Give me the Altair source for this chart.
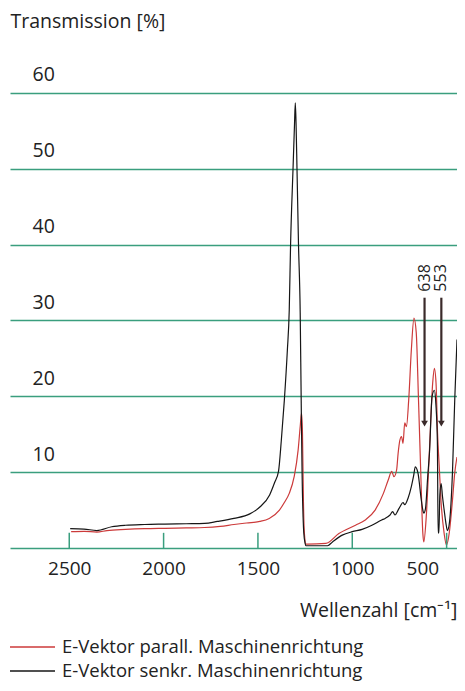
import altair as alt
import pandas as pd

# ---- data ----
red_w = [2490, 2420, 2354, 2300, 2202, 2100, 1993, 1880, 1783, 1700, 1627, 1560, 1490, 1440,
         1386, 1360, 1334, 1308, 1287, 1276, 1269, 1264, 1259, 1254, 1245, 1236, 1140, 1071,
         983, 931, 879, 835, 809, 791, 779, 765, 757, 748, 739, 731, 722, 713, 701, 687, 673,
         661, 649, 638, 626, 621, 608, 591, 574, 565, 556, 548, 539, 530, 513, 501, 486, 469,
         457, 445]
red_v = [2.15, 2.2, 2.1, 2.3, 2.45, 2.55, 2.6, 2.65, 2.7, 2.85, 3.1, 3.3, 3.5, 3.9,
         5.0, 6.0, 7.2, 9.4, 12.9, 16.0, 17.8, 15.2, 6.3, 2.0, 0.5, 0.5, 0.6, 1.9,
         3.0, 3.7, 5.0, 7.2, 9.0, 10.1, 9.4, 10.3, 12.5, 14.2, 14.7, 13.8, 16.5, 16.0, 19.5, 26.1, 30.3,
         28.4, 19.5, 10.7, 1.9, 0.8, 4.1, 12.9, 21.7, 23.7, 21.7, 15.1, 10.7, 6.3, 1.9, 0.4, 2.0, 6.3,
         9.9, 12.0]

black_w = [2495, 2422, 2354, 2275, 2202, 2100, 1993, 1880, 1783, 1715, 1627, 1543, 1490, 1438,
           1412, 1391, 1376, 1360, 1344, 1334, 1327, 1314, 1306, 1302, 1298, 1293, 1285, 1276,
           1271, 1266, 1257, 1250, 1245, 1180, 1131, 1105, 1053, 1000, 948, 896, 844, 826, 800,
           786, 774, 757, 748, 731, 722, 704, 687, 675, 666, 652, 634, 626, 621, 612, 600, 591,
           577, 565, 557, 549, 545, 541, 536, 529, 522, 513, 502, 496, 487, 478, 469, 457, 445]
black_v = [2.55, 2.5, 2.3, 2.8, 3.0, 3.1, 3.15, 3.2, 3.25, 3.5, 3.9, 4.5, 5.4, 7.0,
           8.6, 10.1, 14.2, 19.5, 26.1, 31.4, 40.0, 50.0, 56.0, 58.7, 56.0, 50.0, 40.0, 31.0,
           20.0, 10.0, 2.0, 0.6, 0.3, 0.3, 0.3, 0.8, 1.7, 2.15, 2.45, 3.0, 3.7, 3.9, 4.35,
           4.8, 4.35, 5.0, 5.4, 6.0, 5.7, 6.6, 8.1, 9.5, 10.7, 9.9, 6.3, 5.0, 4.6, 5.2, 9.5, 12.5,
           20.0, 20.8, 19.0, 14.0, 2.0, 2.0, 7.0, 8.5, 6.8, 5.0, 3.0, 2.3, 3.0, 5.4, 10.0, 19.5, 27.5]

series_names = ["E-Vektor parall. Maschinenrichtung", "E-Vektor senkr. Maschinenrichtung"]
series_colors = ["#cc3a3a", "#161616"]

x_ticks = [2500, 2000, 1500, 1000, 500]
y_ticks = [10, 20, 30, 40, 50, 60]

arrow_pos = [617, 528]
arrow_labels = ["638", "553"]
arrow_top = 33.0
arrow_tip = 16.4
label_base = 33.8

GREEN = "#3a9e7e"
FONT = "Open Sans"
TXT = "#222222"

PLOT_W = 447
PLOT_H = 493

red_df = pd.DataFrame({"w": red_w, "t": red_v})
black_df = pd.DataFrame({"w": black_w, "t": black_v})
tick_df = pd.DataFrame({"w": x_ticks, "y0": [0] * len(x_ticks), "y1": [2.0] * len(x_ticks)})
arrow_df = pd.DataFrame({"w": arrow_pos, "lab": arrow_labels,
                         "top": [arrow_top] * 2, "tip": [arrow_tip] * 2, "lb": [label_base] * 2})

xscale = alt.Scale(domain=[445, 2814], reverse=True, nice=False, zero=False)
yscale = alt.Scale(domain=[0, 65], nice=False, zero=False)

xaxis = alt.Axis(values=x_ticks, format="d", grid=False, ticks=False, tickSize=0,
                 domain=True, domainColor=GREEN, domainWidth=1.5,
                 labelFont=FONT, labelFontSize=19, labelColor=TXT, labelPadding=11,
                 labelFlush=15, labelFlushOffset=-8,
                 title="Wellenzahl [cm⁻¹]", titleFont=FONT, titleFontSize=19.5,
                 titleFontWeight="normal", titleColor=TXT, titleX=PLOT_W, titleY=62,
                 titleAlign="right", titleBaseline="middle")
yaxis = alt.Axis(values=y_ticks, format="d", grid=True, gridColor=GREEN, gridWidth=1.5,
                 domain=False, ticks=False, tickSize=0,
                 labelAlign="left", labelBaseline="middle", labelPadding=-22, labelOffset=-18,
                 labelFont=FONT, labelFontSize=19.5, labelColor=TXT,
                 title="Transmission [%]", titleAngle=0, titleX=0, titleY=-34,
                 titleAlign="left", titleBaseline="middle", titleFont=FONT, titleFontSize=19.5,
                 titleFontWeight="normal", titleColor=TXT)

base_x = alt.X("w:Q", scale=xscale, axis=xaxis)
base_y = alt.Y("t:Q", scale=yscale, axis=yaxis)

red_line = alt.Chart(red_df).mark_line(color=series_colors[0], strokeWidth=1.2,
                                       interpolate="monotone").encode(x=base_x, y=base_y)
black_line = alt.Chart(black_df).mark_line(color=series_colors[1], strokeWidth=1.2,
                                           interpolate="monotone").encode(
    x=alt.X("w:Q", scale=xscale), y=alt.Y("t:Q", scale=yscale))

ticks = alt.Chart(tick_df).mark_rule(color=GREEN, strokeWidth=1.5).encode(
    x=alt.X("w:Q", scale=xscale), y=alt.Y("y0:Q", scale=yscale), y2="y1:Q")

arrow_shaft = alt.Chart(arrow_df).mark_rule(color="#3a2a2a", strokeWidth=2.2).encode(
    x=alt.X("w:Q", scale=xscale), y=alt.Y("top:Q", scale=yscale), y2="tip:Q")
arrow_head = alt.Chart(arrow_df).mark_point(shape="triangle-down", filled=True,
                                            color="#3a2a2a", size=45, opacity=1).encode(
    x=alt.X("w:Q", scale=xscale), y=alt.Y("tip:Q", scale=yscale))
arrow_text = alt.Chart(arrow_df).mark_text(angle=270, align="left", baseline="middle",
                                           font=FONT, fontSize=16, color=TXT).encode(
    x=alt.X("w:Q", scale=xscale), y=alt.Y("lb:Q", scale=yscale), text="lab:N")

layers = [red_line, black_line, ticks, arrow_shaft, arrow_head, arrow_text]

# manual legend below the plot
LEG_Y = [592, 616]
for name, col, ly in zip(series_names, series_colors, LEG_Y):
    ldf = pd.DataFrame({"label": [name]})
    layers.append(alt.Chart(ldf).mark_rule(color=col, strokeWidth=1.3).encode(
        x=alt.value(0), x2=alt.value(45), y=alt.value(ly)))
    layers.append(alt.Chart(ldf).mark_text(align="left", baseline="middle", font=FONT,
                                           fontSize=18.5, color=TXT).encode(
        x=alt.value(52), y=alt.value(ly), text="label:N"))

chart = alt.layer(*layers).properties(
    width=PLOT_W, height=PLOT_H,
    padding={"left": 2, "top": 47, "right": 0, "bottom": 135},
    autosize=alt.AutoSizeParams(type="none"),
    background="white",
).configure_view(stroke=None)

chart.save("out.html", embed_options={"renderer": "svg", "actions": False})
